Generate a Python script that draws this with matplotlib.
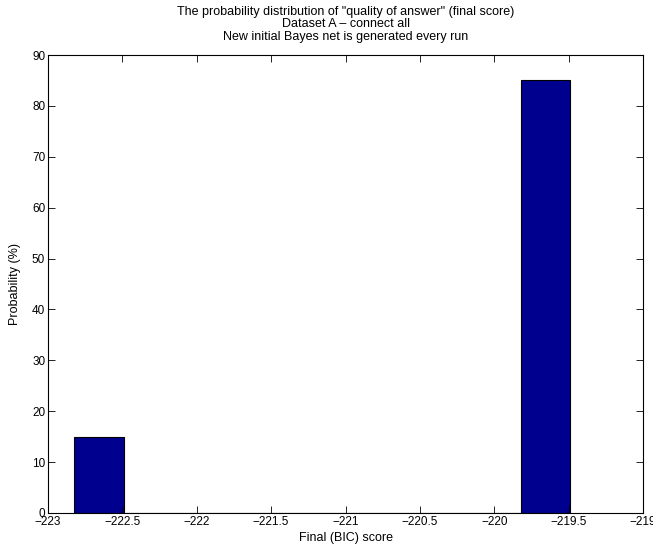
import numpy as np
import matplotlib
matplotlib.use("Agg")
import matplotlib.pyplot as plt

plt.rcParams['font.family'] = ['Liberation Sans', 'DejaVu Sans']

# histogram of final BIC scores, 10 bins between min and max score
score_min = -222.825
score_max = -219.49
probability = [15, 0, 0, 0, 0, 0, 0, 0, 0, 85]  # percent per bin

xticks = [-223, -222.5, -222, -221.5, -221, -220.5, -220, -219.5, -219]
xtick_labels = ["\u2212223", "\u2212222.5", "\u2212222", "\u2212221.5", "\u2212221",
                "\u2212220.5", "\u2212220", "\u2212219.5", "\u2212219"]
yticks = [0, 10, 20, 30, 40, 50, 60, 70, 80, 90]

edges = np.linspace(score_min, score_max, len(probability) + 1)
width = edges[1] - edges[0]

fig = plt.figure(figsize=(6.53, 5.5), dpi=100)
ax = fig.add_axes([0.0735, 0.0673, 0.9112, 0.8327])

ax.bar(edges[:-1], probability, width=width, align='edge',
       color='#00008F', edgecolor='black', linewidth=0.8)

ax.set_xlim(-223, -219)
ax.set_ylim(0, 90)
ax.set_xticks(xticks)
ax.set_xticklabels(xtick_labels)
ax.set_yticks(yticks)
ax.tick_params(direction='in', top=True, right=True, length=5, width=0.6,
               labelsize=8.5, pad=2)
for s in ax.spines.values():
    s.set_linewidth(0.8)

ax.set_xlabel("Final (BIC) score", fontsize=9, labelpad=3)
ax.set_ylabel("Probability (%)", fontsize=9, labelpad=8)
ax.set_title('The probability distribution of "quality of answer" (final score)\n'
             'Dataset A \u2013 connect all\n'
             'New initial Bayes net is generated every run',
             fontsize=9, linespacing=1.05, pad=11)

fig.savefig("out.png", dpi=100)
